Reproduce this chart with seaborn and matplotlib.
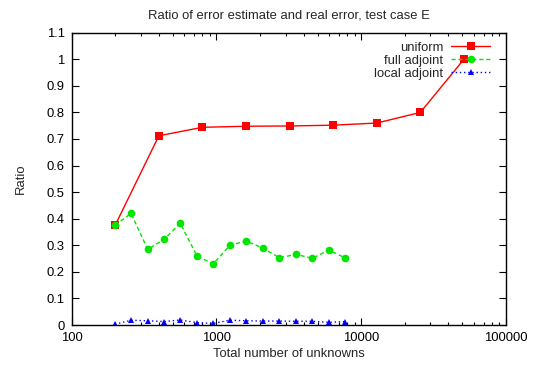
import matplotlib
matplotlib.use("Agg")
import matplotlib.pyplot as plt
import seaborn as sns
import pandas as pd
import numpy as np
from matplotlib.ticker import LogLocator, FixedLocator, FuncFormatter, NullFormatter

sns.set_style("ticks")
plt.rcParams['font.family'] = ['Liberation Sans', 'DejaVu Sans']

uniform_n = [200, 400, 800, 1600, 3200, 6400, 12800, 25600, 51200]
uniform_r = [0.376, 0.712, 0.744, 0.748, 0.749, 0.752, 0.760, 0.800, 1.000]

adj_n = [199, 257, 335, 434, 562, 733, 950, 1238, 1606, 2084, 2716, 3540, 4590, 5980, 7770]
full_r = [0.376, 0.420, 0.285, 0.322, 0.383, 0.260, 0.230, 0.300, 0.316, 0.290, 0.253, 0.266, 0.251, 0.282, 0.252]
local_r = [0.003, 0.018, 0.016, 0.013, 0.019, 0.009, 0.006, 0.018, 0.016, 0.015, 0.015, 0.014, 0.014, 0.010, 0.013]

title = "Ratio of error estimate and real error, test case E"
xlabel = "Total number of unknowns"
ylabel = "Ratio"
xticks = [100, 1000, 10000, 100000]
yticks = [0, 0.1, 0.2, 0.3, 0.4, 0.5, 0.6, 0.7, 0.8, 0.9, 1, 1.1]

df_u = pd.DataFrame({"n": uniform_n, "r": uniform_r})
df_f = pd.DataFrame({"n": adj_n, "r": full_r})
df_l = pd.DataFrame({"n": adj_n, "r": local_r})

FS = 9.4

fig = plt.figure(figsize=(5.37, 3.69), dpi=100)
ax = fig.add_axes([0.1335, 0.1192, 0.9423 - 0.1335, 0.9114 - 0.1192])

sns.lineplot(data=df_u, x="n", y="r", ax=ax, color="#ff0000", lw=1.0, marker="s",
             markersize=5.5, markeredgewidth=0, label="uniform", estimator=None, sort=False)
sns.lineplot(data=df_f, x="n", y="r", ax=ax, color="#00e600", lw=1.0, marker="o",
             markersize=5.5, markeredgewidth=0, label="full adjoint", estimator=None, sort=False,
             linestyle=(0, (3, 2)))
sns.lineplot(data=df_l, x="n", y="r", ax=ax, color="#0000ff", lw=1.0, marker="^",
             markersize=4.5, markeredgewidth=0, label="local adjoint", estimator=None, sort=False,
             linestyle=(0, (1, 2)))

ax.set_xscale("log")
ax.set_xlim(100, 100000)
ax.set_ylim(0, 1.1)
ax.xaxis.set_major_locator(FixedLocator(xticks))
ax.xaxis.set_major_formatter(FuncFormatter(lambda v, p: f"{int(round(v))}"))
ax.xaxis.set_minor_locator(LogLocator(base=10, subs=np.arange(2, 10)))
ax.xaxis.set_minor_formatter(NullFormatter())
ax.yaxis.set_major_locator(FixedLocator(yticks))
ax.yaxis.set_major_formatter(FuncFormatter(lambda v, p: f"{v:g}"))

ax.tick_params(which="both", direction="in", top=True, right=True, labelsize=FS,
               colors="black", width=0.8)
ax.tick_params(which="major", length=5, pad=5)
ax.tick_params(which="minor", length=2.5)
for s in ax.spines.values():
    s.set_linewidth(1.0)
    s.set_color("black")

ax.set_title(title, fontsize=FS, pad=10)
ax.set_xlabel(xlabel, fontsize=FS, labelpad=3)
ax.set_ylabel(ylabel, fontsize=FS, labelpad=14)

ax.legend(loc="upper right", frameon=False, markerfirst=False, fontsize=FS,
          handlelength=3.0, handletextpad=0.6, labelspacing=0.05,
          borderaxespad=0.3, bbox_to_anchor=(0.985, 1.0))

fig.savefig("out.png", dpi=100)
